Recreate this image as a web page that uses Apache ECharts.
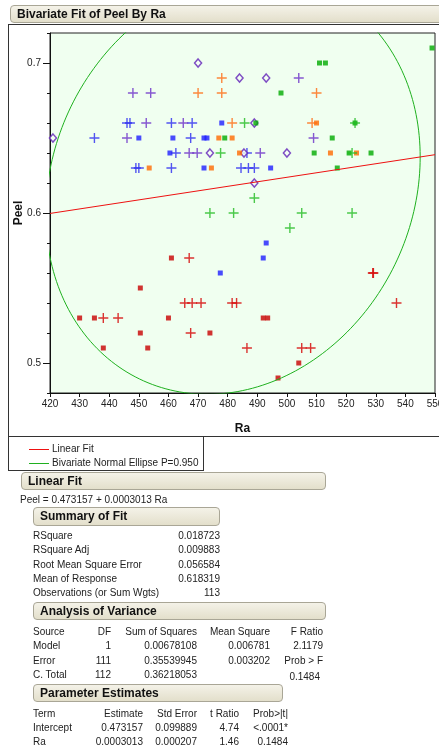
<!DOCTYPE html>
<html>
<head>
<meta charset="utf-8">
<script src="https://cdn.jsdelivr.net/npm/echarts@6/dist/echarts.min.js"></script>
<style>
body{margin:0;width:439px;height:750px;overflow:hidden;background:#fff;font-family:"Liberation Sans",Arial,sans-serif;color:#222;position:relative}
.bar{position:absolute;box-sizing:border-box;border:1px solid #a9a696;border-radius:4px;background:linear-gradient(#f4f2e8,#e3dfcb);font-weight:bold;font-size:12px;color:#111;padding-left:6px;line-height:16px}
.t{position:absolute;font-size:10px;white-space:nowrap;line-height:12px}
.ln{position:absolute;background:#333}
</style>
</head>
<body>
<div id="chart" style="position:absolute;left:0;top:0;width:439px;height:436px"></div>
<div id="report"></div>
<script>
// Peel vs Ra points, grouped by colour / marker
const redSquares = [[461,0.57],[450.5,0.55],[430,0.53],[435,0.53],[460,0.53],[492,0.53],[493.5,0.53],[450.5,0.52],[474,0.52],[438,0.51],[453,0.51],[504,0.50],[497,0.49]]
const redPlus = [[467,0.57],[465.5,0.54],[468,0.54],[471,0.54],[481.5,0.54],[483,0.54],[537,0.54],[438,0.53],[443,0.53],[467.5,0.52],[486.5,0.51],[505,0.51],[508,0.51],[529,0.56],[529.2,0.56]]
const blueSquares = [[477.5,0.56],[493,0.58],[492,0.57],[478,0.66],[450,0.65],[461.5,0.65],[472,0.65],[473,0.65],[460.5,0.64],[472,0.63],[494.5,0.63]]
const bluePlus = [[446,0.66],[447,0.66],[461,0.66],[468,0.66],[435,0.65],[467.5,0.65],[462.5,0.64],[486.5,0.64],[449,0.63],[450,0.63],[461,0.63],[484.5,0.63],[487,0.63],[489,0.63]]
const purplePlus = [[448,0.68],[454,0.68],[504,0.69],[452.5,0.66],[465,0.66],[446,0.65],[509,0.65],[467,0.64],[469.7,0.64],[491,0.64]]
const purpleDiamonds = [[470,0.70],[484,0.69],[493,0.69],[421,0.65],[489,0.66],[474,0.64],[485.5,0.64],[500,0.64],[489,0.62]]
const orangeSquares = [[453.5,0.63],[474.5,0.63],[477,0.65],[481.5,0.65],[484,0.64],[514.7,0.64],[523.5,0.64],[510,0.66]]
const orangePlus = [[478,0.69],[470,0.68],[478,0.68],[510,0.68],[481.5,0.66],[508.5,0.66]]
const greenSquares = [[549,0.71],[511,0.70],[513,0.70],[498,0.68],[489.5,0.66],[523,0.66],[479,0.65],[515.3,0.65],[509.2,0.64],[521,0.64],[528.4,0.64],[517,0.63]]
const greenPlus = [[485.7,0.66],[523,0.66],[477.6,0.64],[522,0.64],[474,0.60],[482,0.60],[505,0.60],[522,0.60],[489,0.61],[501,0.59]]

// fit results from the report
const intercept = 0.473157
const slope = 0.0003013
const rSquare = 0.018723
const meanPeel = 0.618319
const totalSS = 0.36218053
const nObs = 113
const chi2_95 = 5.991 // 2 df, P=0.950

const xTicks = [420, 550, 10]
const yLabelTicks = [0.5, 0.6, 0.7]

const chartInstance = echarts.init(document.getElementById('chart'))

// bivariate normal ellipse from the moments implied by the fit
const sdPeel = Math.sqrt(totalSS / (nObs - 1))
const corr = Math.sqrt(rSquare)
const sdRa = corr * sdPeel / slope
const meanRa = (meanPeel - intercept) / slope
const k = Math.sqrt(chi2_95)
const ellipse = []
for (let i = 0; i <= 240; i++) {
    const t = i / 240 * Math.PI * 2
    ellipse.push([
        meanRa + k * sdRa * Math.cos(t),
        meanPeel + k * sdPeel * (corr * Math.cos(t) + Math.sqrt(1 - corr * corr) * Math.sin(t))
    ])
}
const fitLine = [[xTicks[0], intercept + slope * xTicks[0]], [xTicks[1], intercept + slope * xTicks[1]]]

const plusPath = 'path://M4.3 0H5.7V10H4.3Z M0 4.3H10V5.7H0Z'
const sq = (data, color) => ({ type: 'scatter', data, symbol: 'rect', symbolSize: 5, itemStyle: { color } })
const pl = (data, color) => ({ type: 'scatter', data, symbol: plusPath, symbolSize: 10, itemStyle: { color } })

const option = {
    animation: false,
    grid: { left: 50, top: 33, width: 385, height: 360, containLabel: false, outerBoundsMode: 'none', show: true, backgroundColor: '#f0fff0', borderColor: '#222', borderWidth: 1 },
    xAxis: {
        type: 'value', min: xTicks[0], max: xTicks[1], interval: xTicks[2],
        axisLine: { lineStyle: { color: '#111' } },
        axisTick: { length: 4, lineStyle: { color: '#111' } },
        axisLabel: { fontSize: 10, color: '#222', margin: 6, fontFamily: 'Liberation Sans' },
        splitLine: { show: false },
        name: 'Ra', nameLocation: 'middle', nameGap: 30,
        nameTextStyle: { fontWeight: 'bold', fontSize: 12, color: '#111', fontFamily: 'Liberation Sans' }
    },
    yAxis: [
        {
            type: 'value', min: 0.48, max: 0.72, interval: 0.02,
            axisLine: { show: true, lineStyle: { color: '#111' } },
            axisTick: { length: 3, lineStyle: { color: '#111' } },
            axisLabel: { show: false },
            splitLine: { show: false },
            name: 'Peel', nameLocation: 'middle', nameGap: 25, nameRotate: 90,
            nameTextStyle: { fontWeight: 'bold', fontSize: 12, color: '#111', fontFamily: 'Liberation Sans' }
        },
        {
            type: 'value', min: 0.48, max: 0.72, position: 'left',
            axisLine: { show: false },
            axisTick: { show: true, length: 7, customValues: yLabelTicks, lineStyle: { color: '#111' } },
            axisLabel: { customValues: yLabelTicks, fontSize: 10, color: '#222', margin: 9, fontFamily: 'Liberation Sans', formatter: v => v.toFixed(1) },
            splitLine: { show: false }
        }
    ],
    series: [
        { type: 'line', data: ellipse, showSymbol: false, lineStyle: { color: '#1fb01f', width: 1 }, clip: true, silent: true },
        { type: 'line', data: fitLine, showSymbol: false, lineStyle: { color: '#ee1111', width: 1 }, silent: true },
        sq(redSquares, '#c80000'),
        pl(redPlus, '#d40000'),
        sq(blueSquares, '#1e1eff'),
        pl(bluePlus, '#2a2af0'),
        pl(purplePlus, '#6a2ec8'),
        { type: 'scatter', data: purpleDiamonds, symbol: 'diamond', symbolSize: [7, 8], itemStyle: { color: '#f4fff4', borderColor: '#6020b8', borderWidth: 1.5 } },
        sq(orangeSquares, '#ff6a00'),
        pl(orangePlus, '#ff6a10'),
        sq(greenSquares, '#00aa00'),
        pl(greenPlus, '#22bb22')
    ]
}
chartInstance.setOption(option)

// report panels
const summaryRows = [['RSquare', '0.018723'], ['RSquare Adj', '0.009883'], ['Root Mean Square Error', '0.056584'], ['Mean of Response', '0.618319'], ['Observations (or Sum Wgts)', '113']]
const anovaRows = [['Source', 'DF', 'Sum of Squares', 'Mean Square', 'F Ratio'], ['Model', '1', '0.00678108', '0.006781', '2.1179'], ['Error', '111', '0.35539945', '0.003202', 'Prob > F'], ['C. Total', '112', '0.36218053', '', '']]
const paramRows = [['Term', 'Estimate', 'Std Error', 't Ratio', 'Prob>|t|'], ['Intercept', '0.473157', '0.099889', '4.74', '<.0001*'], ['Ra', '0.0003013', '0.000207', '1.46', '0.1484']]

const rep = document.getElementById('report')
const add = (html) => rep.insertAdjacentHTML('beforeend', html)
const txt = (s, x, y, right) => {
    const d = document.createElement('div')
    d.className = 't'
    d.textContent = s
    d.style.top = (y - 6) + 'px'
    if (right) { d.style.right = (439 - x) + 'px'; d.style.textAlign = 'right' } else d.style.left = x + 'px'
    rep.appendChild(d)
}
const bar = (s, x, y, w, h) => {
    const d = document.createElement('div')
    d.className = 'bar'
    d.textContent = s
    Object.assign(d.style, { left: x + 'px', top: y + 'px', width: w + 'px', height: h + 'px' })
    rep.appendChild(d)
}

bar('Bivariate Fit of Peel By Ra', 10, 5, 440, 18)
add('<div class="ln" style="left:8px;top:24px;width:440px;height:1px"></div>')
add('<div class="ln" style="left:8px;top:24px;width:1px;height:447px"></div>')
add('<div class="ln" style="left:8px;top:436px;width:440px;height:1px"></div>')
add('<div class="ln" style="left:203px;top:436px;width:1px;height:35px"></div>')
add('<div class="ln" style="left:8px;top:470px;width:196px;height:1px"></div>')
add('<div class="ln" style="left:29px;top:449px;width:20px;height:1px;background:#ee1111"></div>')
add('<div class="ln" style="left:29px;top:463px;width:20px;height:1px;background:#1fb01f"></div>')
txt('Linear Fit', 52, 449)
txt('Bivariate Normal Ellipse P=0.950', 52, 463)

bar('Linear Fit', 21, 472, 305, 18)
txt('Peel = ' + intercept + ' + ' + slope + ' Ra', 20, 500)

bar('Summary of Fit', 33, 507, 187, 19)
summaryRows.forEach((r, i) => { const y = 536 + i * 14.3; txt(r[0], 33, y); txt(r[1], 220, y, true) })

bar('Analysis of Variance', 33, 602, 293, 18)
const anovaCols = [111, 197, 270, 323]
anovaRows.forEach((r, i) => {
    const y = 632 + i * 14.4
    txt(r[0], 33, y)
    r.slice(1).forEach((c, j) => { if (c) txt(c, anovaCols[j], y, true) })
})
txt('0.1484', 320, 676.5, true)

bar('Parameter Estimates', 33, 684, 250, 18)
const paramCols = [143, 197, 239, 288]
paramRows.forEach((r, i) => {
    const y = 714 + i * 14
    txt(r[0], 33, y)
    r.slice(1).forEach((c, j) => txt(c, paramCols[j], y, true))
})
</script>
</body>
</html>
